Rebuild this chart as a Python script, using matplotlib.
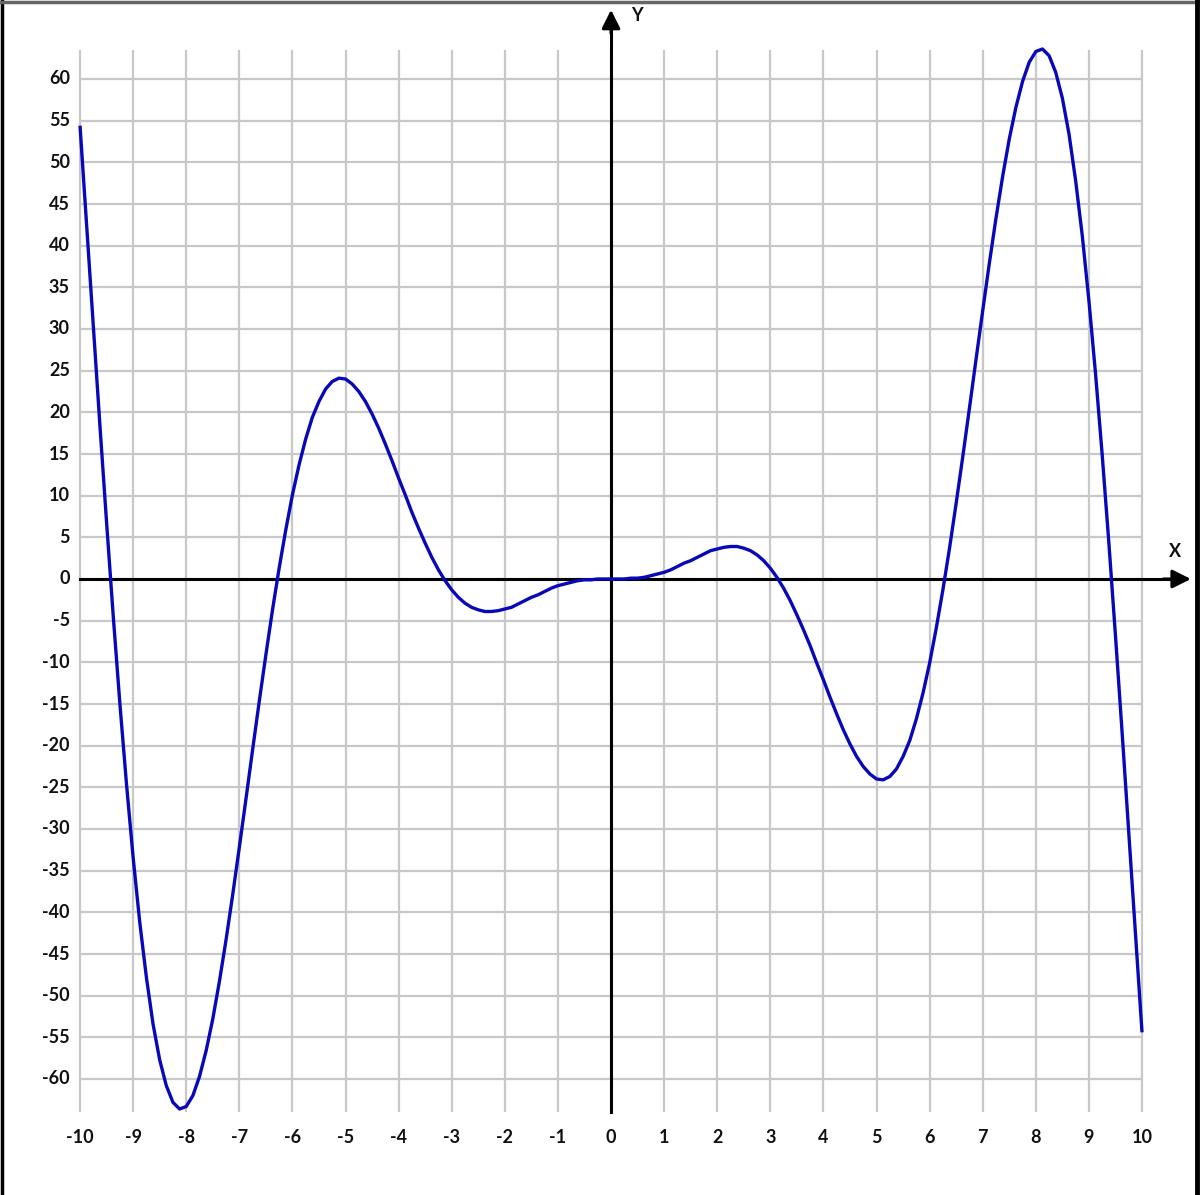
import numpy as np
import matplotlib
matplotlib.use("Agg")
import matplotlib.pyplot as plt
from matplotlib.lines import Line2D

# values, every 0.125 from -10 to 10
x_vals = np.arange(-10, 10.001, 0.125)
y_vals = [54.4, 42.4, 30.4, 18.4, 6.8, -4.4, -14.9, -24.6,
          -33.4, -41.2, -47.8, -53.4, -57.7, -60.8, -62.8, -63.6,
          -63.3, -62.0, -59.7, -56.6, -52.8, -48.3, -43.3, -37.9,
          -32.2, -26.4, -20.5, -14.7, -9.1, -3.7, 1.3, 5.9,
          10.1, 13.7, 16.8, 19.4, 21.3, 22.8, 23.7, 24.1,
          24.0, 23.4, 22.5, 21.3, 19.8, 18.1, 16.2, 14.2,
          12.1, 10.1, 8.0, 6.1, 4.3, 2.6, 1.1, -0.2,
          -1.3, -2.2, -2.9, -3.4, -3.7, -3.9, -3.9, -3.8,
          -3.6, -3.4, -3.0, -2.6, -2.2, -1.9, -1.5, -1.1,
          -0.8, -0.6, -0.4, -0.2, -0.1, -0.1, 0.0, 0.0,
          0.0,
          0.0, 0.0, 0.1, 0.1, 0.2, 0.4, 0.6, 0.8,
          1.1, 1.5, 1.9, 2.2, 2.6, 3.0, 3.4, 3.6,
          3.8, 3.9, 3.9, 3.7, 3.4, 2.9, 2.2, 1.3,
          0.2, -1.1, -2.6, -4.3, -6.1, -8.0, -10.1, -12.1,
          -14.2, -16.2, -18.1, -19.8, -21.3, -22.5, -23.4, -24.0,
          -24.1, -23.7, -22.8, -21.3, -19.4, -16.8, -13.7, -10.1,
          -5.9, -1.3, 3.7, 9.1, 14.7, 20.5, 26.4, 32.2,
          37.9, 43.3, 48.3, 52.8, 56.6, 59.7, 62.0, 63.3,
          63.6, 62.8, 60.8, 57.7, 53.4, 47.8, 41.2, 33.4,
          24.6, 14.9, 4.4, -6.8, -18.4, -30.4, -42.4, -54.4]

x_ticks = list(range(-10, 11))
y_ticks = list(range(-60, 61, 5))

fig = plt.figure(figsize=(12, 11.95), dpi=100)
ax = fig.add_axes([0, 0, 1, 1])
ax.set_xlim(-11.507, 11.092)
ax.set_ylim(-73.92, 69.48)
ax.axis("off")

grid_c = "#c8c8c8"
ax.vlines(x_ticks, -64, 63.5, color=grid_c, lw=1.6, zorder=1)
ax.hlines(y_ticks, -10, 10, color=grid_c, lw=1.6, zorder=1)

# axes with arrows
ax.plot([-10, 10.6], [0, 0], color="black", lw=2.2, zorder=2)
ax.plot([0, 0], [-64, 67], color="black", lw=2.2, zorder=2)
ax.annotate("", xy=(10.92, 0), xytext=(10.4, 0),
            arrowprops=dict(arrowstyle="-|>", mutation_scale=28, lw=2.2,
                            color="black", shrinkA=0, shrinkB=0))
ax.annotate("", xy=(0, 68.3), xytext=(0, 65.5),
            arrowprops=dict(arrowstyle="-|>", mutation_scale=28, lw=2.2,
                            color="black", shrinkA=0, shrinkB=0))

font = dict(family="Lato", fontweight="bold", fontsize=13, color="#111111")
for t in y_ticks:
    ax.text(-10.19, t, str(t), ha="right", va="center", **font)
for t in x_ticks:
    ax.text(t, -67.0, str(t), ha="center", va="center", **font)
ax.text(0.48, 67.6, "Y", ha="center", va="center", **font)
ax.text(10.62, 3.3, "X", ha="center", va="center", **font)

ax.plot(x_vals, y_vals, color="#0808b8", lw=2.4, zorder=3,
        solid_joinstyle="round", solid_capstyle="butt")

# picture frame
fig.add_artist(Line2D([0.0015, 0.0015], [0, 1], color="black", lw=2.5))
fig.add_artist(Line2D([0, 1], [0.9985, 0.9985], color="#666666", lw=2.5))
fig.add_artist(Line2D([0.9975, 0.9975], [0, 1], color="black", lw=3.5))

fig.savefig("out.png", dpi=100)
